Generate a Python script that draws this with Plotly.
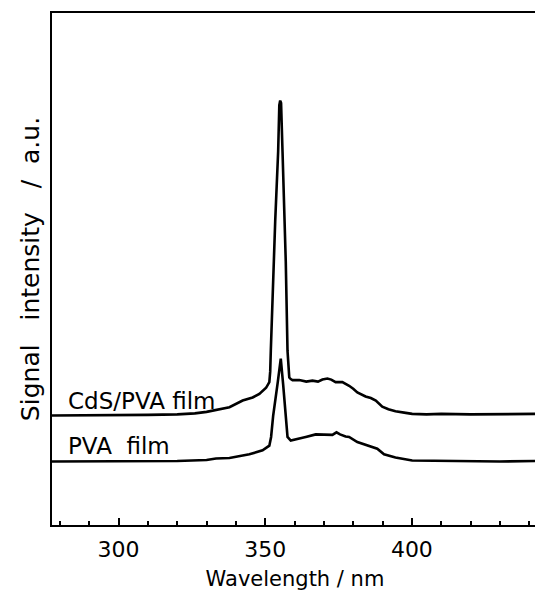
import plotly.graph_objects as go

# ---- data (y in arbitrary units 0..100) ----
cds_wl = [277.3, 290, 300, 310, 320, 326, 330, 334, 337.8, 342.3, 345.7, 348, 349.1, 350.3,
          351.4, 351.7, 351.9, 352.8, 353.4, 354.4, 354.8, 355.1, 355.4, 355.9, 356.7, 357.0,
          357.6, 358.2, 358.7, 359.3, 361.6, 364, 366.1, 368, 369.5, 371.2, 372.5, 374.0,
          376.3, 378.6, 380, 381.4, 384.2, 386, 387.7, 389.9, 392, 394.4, 397.9, 400.1, 405,
          410, 420, 430, 443]
cds_int = [21.4, 21.4, 21.4, 21.5, 21.6, 21.8, 22.1, 22.5, 23.0, 24.3, 24.9, 25.6, 26.2, 26.8,
           27.9, 30.0, 34.0, 51.5, 59.3, 72.9, 82.0, 82.9, 82.4, 72.9, 59.3, 51.5,
           34.0, 28.8, 28.5, 28.3, 28.3, 28.0, 28.2, 28.0, 28.4, 28.6, 28.4, 27.9,
           27.9, 27.2, 26.6, 25.9, 25.1, 24.8, 24.3, 23.1, 22.6, 22.2, 21.9, 21.7, 21.6,
           21.7, 21.6, 21.7, 21.7]

pva_wl = [277.3, 300, 320, 330, 333.2, 337.8, 342.3, 344.6, 349.1, 351.4, 352.0, 352.7,
          354.3, 355.3, 356.1, 357.0, 357.6, 358.7, 360, 361.6, 363.8, 367.2, 370, 372.9,
          374.3, 375.5, 377.4, 378.6, 381.4, 385.4, 388.2, 390.5, 394.4, 400.1, 410, 420,
          430, 443]
pva_int = [12.4, 12.4, 12.5, 12.7, 13.0, 13.1, 13.6, 13.8, 14.6, 15.5, 17.2, 21.3,
           28.0, 32.5, 27.5, 21.0, 17.2, 16.5, 16.7, 17.0, 17.2, 17.7, 17.6, 17.6,
           18.1, 17.7, 17.3, 17.2, 16.2, 15.5, 14.9, 13.8, 13.2, 12.6, 12.5, 12.5,
           12.4, 12.5]

series_labels = ["CdS/PVA film", "PVA\u00a0\u00a0film"]
label_pos_x = [282.2, 282.2]
label_pos_y = [24.3, 15.4]

x_ticks = [300, 350, 400]

FONT = "DejaVu Sans"

fig = go.Figure()
for wl, inten, name in [(cds_wl, cds_int, series_labels[0]), (pva_wl, pva_int, series_labels[1])]:
    fig.add_trace(go.Scatter(x=wl, y=inten, mode="lines", name=name,
                             line=dict(color="black", width=2.6), showlegend=False,
                             hoverinfo="skip"))

for txt, lx, ly in zip(series_labels, label_pos_x, label_pos_y):
    fig.add_annotation(x=lx, y=ly, xref="x", yref="y", text=txt, showarrow=False,
                       xanchor="left", yanchor="middle",
                       font=dict(family=FONT, size=23, color="black"))

fig.update_layout(
    width=535, height=583,
    margin=dict(l=44, r=4, t=3, b=66),
    paper_bgcolor="white", plot_bgcolor="white",
    font=dict(family=FONT, color="black"),
)
fig.update_xaxes(
    range=[277.3, 443], tickvals=x_ticks, ticktext=[str(v) for v in x_ticks],
    ticks="inside", ticklen=7, tickwidth=2, tickcolor="black",
    minor=dict(dtick=10, tick0=0, ticks="inside", ticklen=4, tickwidth=1.5, tickcolor="black", showgrid=False),
    showline=True, linewidth=2, linecolor="black", mirror=True,
    showgrid=False, zeroline=False,
    ticklabelstandoff=4,
    tickfont=dict(family=FONT, size=22, color="black"),
    title=dict(text="Wavelength / nm", font=dict(family=FONT, size=21, color="black"), standoff=11),
)
fig.update_yaxes(
    range=[0, 100], showticklabels=False, ticks="",
    showline=True, linewidth=2, linecolor="black", mirror=True,
    showgrid=False, zeroline=False,
    title=dict(text="Signal\u00a0\u00a0\u00a0intensity\u00a0\u00a0\u00a0/\u00a0\u00a0a.u.",
               font=dict(family=FONT, size=25, color="black"), standoff=3),
)

fig.write_html("out.html")
